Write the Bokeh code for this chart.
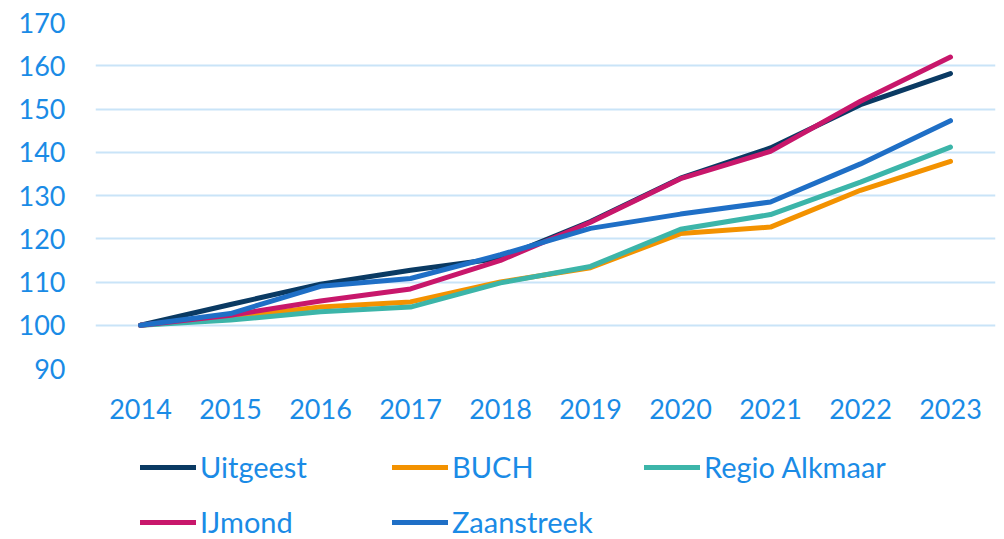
from bokeh.plotting import figure
from bokeh.models import FixedTicker, Legend, LegendItem, Range1d
from bokeh.layouts import column
from bokeh.embed import file_html
from bokeh.resources import INLINE

years = [2014, 2015, 2016, 2017, 2018, 2019, 2020, 2021, 2022, 2023]
uitgeest = [100, 104.8, 109.5, 112.7, 115.5, 124.0, 134.0, 141.0, 151.0, 158.2]
buch = [100, 101.8, 104.2, 105.4, 110.0, 113.3, 121.2, 122.7, 131.2, 137.9]
regio_alkmaar = [100, 101.2, 103.1, 104.2, 109.8, 113.6, 122.2, 125.6, 133.1, 141.2]
ijmond = [100, 102.3, 105.6, 108.4, 115.0, 123.8, 133.9, 140.2, 151.8, 162.0]
zaanstreek = [100, 102.7, 109.0, 110.8, 116.3, 122.4, 125.7, 128.5, 137.3, 147.3]

names = ["Uitgeest", "BUCH", "Regio Alkmaar", "IJmond", "Zaanstreek"]
series = [uitgeest, buch, regio_alkmaar, ijmond, zaanstreek]
colors = ["#0a3a63", "#f39200", "#3cb5a9", "#c8176b", "#1f6fc6"]
y_ticks = [90, 100, 110, 120, 130, 140, 150, 160, 170]

FONT = "Lato"
TXT = "#1a8be6"

# main chart
p = figure(width=1000, height=430, output_backend="svg", toolbar_location=None,
           x_range=Range1d(2013.5, 2023.5), y_range=Range1d(90, 170))
p.min_border_left = 95
p.min_border_right = 5
p.min_border_top = 22
p.min_border_bottom = 62
p.outline_line_color = None
p.background_fill_color = "white"
p.border_fill_color = "white"

for name, vals, col in zip(names, series, colors):
    p.line(years, vals, line_color=col, line_width=5, line_cap="round", line_join="round")

p.xaxis.ticker = FixedTicker(ticks=years)
p.yaxis.ticker = FixedTicker(ticks=y_ticks)
for ax in (p.xaxis, p.yaxis):
    ax.axis_line_color = None
    ax.major_tick_line_color = None
    ax.minor_tick_line_color = None
    ax.major_tick_out = 0
    ax.major_tick_in = 0
    ax.major_label_text_color = TXT
    ax.major_label_text_font = FONT
    ax.major_label_text_font_size = "27px"
p.xaxis.major_label_standoff = 30
p.yaxis.major_label_standoff = 30

p.xgrid.grid_line_color = None
p.ygrid.grid_line_color = "#c9e4f8"
p.ygrid.grid_line_width = 2

# legend strip (lines kept out of view; only their legend samples show)
lg = figure(width=1000, height=109, output_backend="svg", toolbar_location=None,
            x_axis_location=None, y_axis_location=None,
            x_range=Range1d(0, 1), y_range=Range1d(0, 1))
lg.min_border_left = 0
lg.min_border_right = 0
lg.min_border_top = 0
lg.min_border_bottom = 0
lg.outline_line_color = None
lg.grid.visible = False
lg.background_fill_color = "white"
lg.border_fill_color = "white"

items = []
for name, vals, col in zip(names, series, colors):
    r = lg.line(years, vals, line_color=col, line_width=5, line_cap="round", line_join="round")
    items.append(LegendItem(label=name, renderers=[r]))

legend = Legend(items=items, ncols=3, orientation="horizontal",
                label_text_font=FONT, label_text_font_size="29px", label_text_color=TXT,
                glyph_width=56, glyph_height=26, label_standoff=4, label_width=172,
                label_height=26, spacing=20, padding=0, margin=0,
                border_line_color=None, background_fill_alpha=0,
                location=(45, 0))
lg.add_layout(legend, "center")

layout = column(p, lg, spacing=0)
open("out.html", "w").write(file_html(layout, INLINE))
